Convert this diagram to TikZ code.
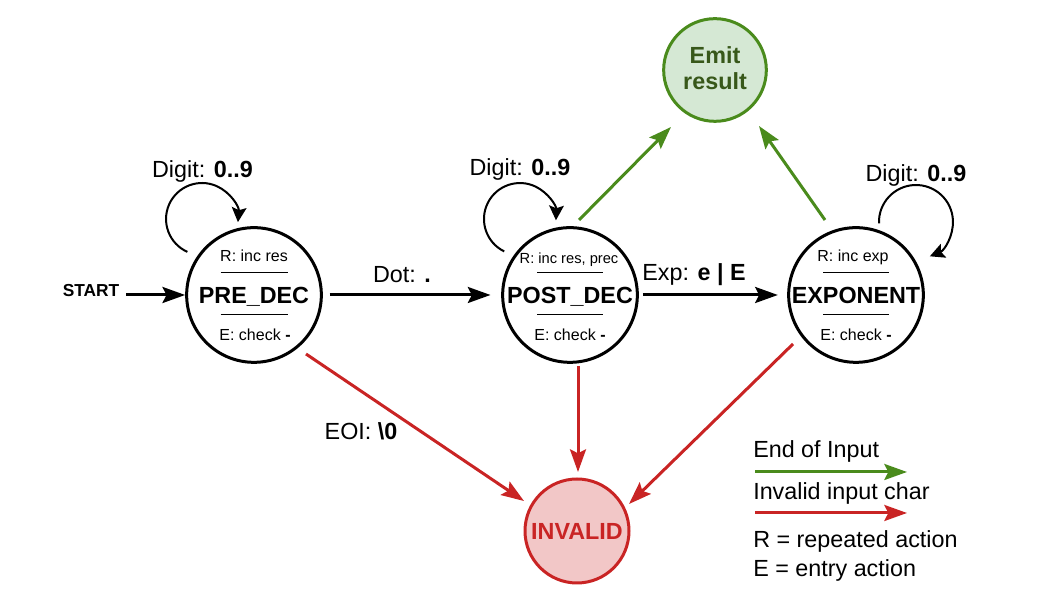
\documentclass[tikz,border=0pt]{standalone}
\usepackage{fontspec}
\setmainfont{Liberation Sans}
\usetikzlibrary{arrows.meta,calc}

\definecolor{okline}{HTML}{4A8B1C}
\definecolor{okfill}{HTML}{D5E8D4}
\definecolor{oktext}{HTML}{38581A}
\definecolor{errline}{HTML}{C92424}
\definecolor{errfill}{HTML}{F2C7C7}

\begin{document}
\begin{tikzpicture}[x=0.75pt,y=0.75pt,
  circ/.style={circle,line width=2.25pt,inner sep=0pt,font=\fontsize{17.5}{19.5}\selectfont\bfseries},
  state/.style={circ,draw,minimum size=101pt,text height=12.5pt,text depth=0pt},
  emit/.style={circ,draw=okline,fill=okfill,text=oktext,minimum size=77pt,align=center,text depth=3.4pt},
  bad/.style={circ,draw=errline,fill=errfill,text=errline,minimum size=78pt,text height=12.5pt,text depth=0pt},
  act/.style={anchor=base,inner sep=0pt,font=\fontsize{12}{14}\selectfont},
  lbl/.style={anchor=base,inner sep=0pt,font=\fontsize{17.5}{20}\selectfont},
  flow/.style={line width=2.25pt,-{Stealth[length=17pt,width=12pt,inset=3pt]}},
  selfloop/.style={line width=1.5pt,-{Stealth[length=11pt,width=11pt,inset=2pt]}},
  sep/.style={line width=0.75pt}]
\useasboundingbox (0,0) rectangle (1058,595);

\node[state] (pre) at (254,300) {PRE\_DEC};
\node[state] (pd) at (570,300) {POST\_DEC};
\node[state] (ex) at (856,300) {EXPONENT};
\node[emit] (em) at (715,525) {Emit\\result};
\node[bad] (inv) at (577,64) {INVALID};

\node[act] (pre-r) at (254,333) {R: inc res};
\node[act] (pre-e) at (255,254) {E: check \textbf{-}};
\node[act,font=\fontsize{11}{13}\selectfont] (pd-r) at (569,331) {R: inc res, prec};
\node[act] (pd-e) at (570,254) {E: check \textbf{-}};
\node[act] (ex-r) at (853,333) {R: inc exp};
\node[act] (ex-e) at (856,254) {E: check \textbf{-}};
\draw[sep] ($(pre)+(-33.5,22)$) -- ++(67,0);
\draw[sep] ($(pre)+(-33.5,-20)$) -- ++(67,0);
\draw[sep] ($(pd)+(-33,22)$) -- ++(66,0);
\draw[sep] ($(pd)+(-33,-20)$) -- ++(66,0);
\draw[sep] ($(ex)+(-33,22)$) -- ++(66,0);
\draw[sep] ($(ex)+(-33,-20)$) -- ++(66,0);

\node[lbl,font=\fontsize{13}{15}\selectfont\bfseries] (st) at (91,298) {START};
\node[lbl] (pre-digit) at (202.5,417) {Digit: \textbf{0..9}};
\node[lbl] (pd-digit) at (520,419) {Digit: \textbf{0..9}};
\node[lbl] (ex-digit) at (916,413) {Digit: \textbf{0..9}};
\node[lbl] (dot) at (402,312) {Dot: \textbf{.}};
\node[lbl] (exp) at (694,314) {Exp: \textbf{e | E}};
\node[lbl] (eoi) at (361,155) {EOI: \textbf{\textbackslash0}};

\draw[flow,shorten <=5pt] (st.east |- pre) -- (pre.west);
\draw[flow,shorten <=5pt,shorten >=8pt] (pre) -- (pd);
\draw[flow,shorten <=3pt,shorten >=7pt] (pd) -- (ex);
\draw[selfloop] ($(pre)+(-66.6,43.1)$) arc[start angle=246,end angle=-5,radius=36];
\draw[selfloop] ($(pd)+(-65.8,43.6)$) arc[start angle=244,end angle=-2,radius=36];
\draw[selfloop] ($(ex)+(23,71.7)$) arc[start angle=182,end angle=-68,radius=37];

\draw[flow,okline] ($(pd)+(9,75)$) -- ($(em)+(-44,-57)$);
\draw[flow,okline] ($(ex)+(-31,75)$) -- ($(em)+(44,-56)$);
\draw[flow,errline] ($(pre)+(52,-59)$) -- ($(inv)+(-53,30)$);
\draw[flow,errline] ($(pd)+(8,-71)$) -- ($(inv)+(1,59)$);
\draw[flow,errline] ($(ex)+(-63,-49)$) -- ($(inv)+(52,27)$);

\node[lbl,anchor=base west] (leg-ok) at (753,137) {End of Input};
\coordinate (leg-ok-a) at (755,123);
\coordinate (leg-ok-b) at (907,123);
\draw[flow,okline] (leg-ok-a) -- (leg-ok-b);
\node[lbl,anchor=base west] (leg-bad) at (753,95) {Invalid input char};
\coordinate (leg-bad-a) at (755,82);
\coordinate (leg-bad-b) at (907,82);
\draw[flow,errline] (leg-bad-a) -- (leg-bad-b);
\node[lbl,anchor=base west] (leg-r) at (753,47) {R = repeated action};
\node[lbl,anchor=base west] (leg-e) at (753,18) {E = entry action};
\end{tikzpicture}
\end{document}
